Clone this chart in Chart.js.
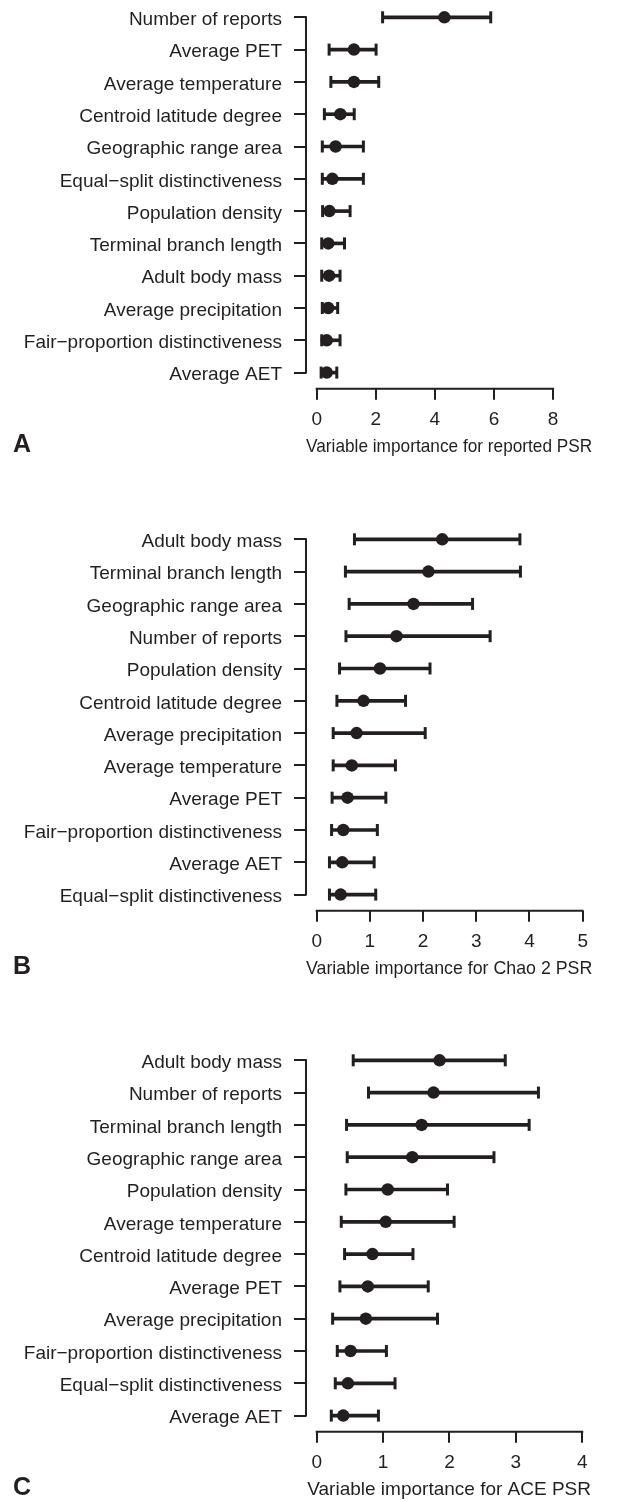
<!DOCTYPE html>
<html>
<head>
<meta charset="utf-8">
<script src="https://cdn.jsdelivr.net/npm/chart.js@4.4.1/dist/chart.umd.min.js"></script>
<style>
  html, body { margin: 0; padding: 0; background: #fff; overflow: hidden; width: 621px; height: 1502px; }
  canvas { position: absolute; left: 0; }
</style>
</head>
<body>
<canvas id="chartA" width="621" height="460" style="top:0px"></canvas>
<canvas id="chartB" width="621" height="460" style="top:521.7px"></canvas>
<canvas id="chartC" width="621" height="460" style="top:1043.4px"></canvas>
<script>
// Panel A - reported PSR
const labelsA = ['Number of reports', 'Average PET', 'Average temperature', 'Centroid latitude degree',
  'Geographic range area', 'Equal\u2212split distinctiveness', 'Population density', 'Terminal branch length',
  'Adult body mass', 'Average precipitation', 'Fair\u2212proportion distinctiveness', 'Average AET'];
const meanA = [4.32, 1.26, 1.26, 0.80, 0.64, 0.53, 0.43, 0.39, 0.42, 0.39, 0.34, 0.34];
const lowA  = [2.23, 0.42, 0.48, 0.26, 0.19, 0.19, 0.20, 0.17, 0.17, 0.19, 0.17, 0.15];
const highA = [5.89, 2.01, 2.10, 1.27, 1.58, 1.58, 1.13, 0.94, 0.79, 0.71, 0.79, 0.68];
const ticksA = [0, 2, 4, 6, 8];

// Panel B - Chao 2 PSR
const labelsB = ['Adult body mass', 'Terminal branch length', 'Geographic range area', 'Number of reports',
  'Population density', 'Centroid latitude degree', 'Average precipitation', 'Average temperature',
  'Average PET', 'Fair\u2212proportion distinctiveness', 'Average AET', 'Equal\u2212split distinctiveness'];
const meanB = [2.36, 2.10, 1.82, 1.50, 1.19, 0.88, 0.75, 0.66, 0.58, 0.50, 0.48, 0.45];
const lowB  = [0.71, 0.54, 0.61, 0.55, 0.43, 0.38, 0.31, 0.31, 0.29, 0.28, 0.24, 0.24];
const highB = [3.82, 3.83, 2.93, 3.26, 2.13, 1.67, 2.04, 1.48, 1.30, 1.14, 1.08, 1.11];
const ticksB = [0, 1, 2, 3, 4, 5];

// Panel C - ACE PSR
const labelsC = ['Adult body mass', 'Number of reports', 'Terminal branch length', 'Geographic range area',
  'Population density', 'Average temperature', 'Centroid latitude degree', 'Average PET',
  'Average precipitation', 'Fair\u2212proportion distinctiveness', 'Equal\u2212split distinctiveness', 'Average AET'];
const meanC = [1.85, 1.76, 1.58, 1.44, 1.07, 1.04, 0.84, 0.77, 0.74, 0.51, 0.47, 0.40];
const lowC  = [0.55, 0.78, 0.45, 0.46, 0.44, 0.37, 0.42, 0.35, 0.24, 0.31, 0.28, 0.22];
const highC = [2.84, 3.34, 3.20, 2.67, 1.97, 2.07, 1.45, 1.68, 1.82, 1.05, 1.18, 0.93];
const ticksC = [0, 1, 2, 3, 4];

const ink = '#231f20';
Chart.defaults.font.family = '"Liberation Sans", Arial, sans-serif';
Chart.defaults.font.size = 19;
Chart.defaults.color = ink;

// R-style axis lines: only from first to last tick, plus the panel letter
const rAxes = {
  id: 'rAxes',
  afterDraw(chart, args, opts) {
    const { ctx, chartArea } = chart;
    const x = chart.scales.x, y = chart.scales.y;
    ctx.save();
    ctx.strokeStyle = ink;
    ctx.lineWidth = 2;
    ctx.beginPath();
    const yTop = y.getPixelForValue(0);
    const yBot = y.getPixelForValue(y.ticks.length - 1);
    ctx.moveTo(chartArea.left, yTop - 1);
    ctx.lineTo(chartArea.left, yBot + 1);
    const xa = x.getPixelForValue(x.ticks[0].value);
    const xb = x.getPixelForValue(x.ticks[x.ticks.length - 1].value);
    ctx.moveTo(xa - 1, chartArea.bottom);
    ctx.lineTo(xb + 1, chartArea.bottom);
    ctx.stroke();
    ctx.fillStyle = ink;
    ctx.font = 'bold 25px "Liberation Sans", Arial, sans-serif';
    ctx.textBaseline = 'alphabetic';
    ctx.fillText(opts.letter, 13, 452);
    ctx.restore();
  }
};

function makePanel(id, letter, labels, lows, means, highs, ticks, xMin, xMax, title) {
  return new Chart(document.getElementById(id), {
    type: 'bar',
    data: {
      labels: labels,
      datasets: [
        {
          type: 'line', label: 'mean', data: means, indexAxis: 'y', order: 0,
          showLine: false, pointStyle: 'circle', pointRadius: 6.25,
          pointBackgroundColor: ink, pointBorderWidth: 0, clip: false
        },
        {
          type: 'line', label: 'low', data: lows, indexAxis: 'y', order: 1,
          showLine: false, pointStyle: 'line', pointRotation: 90, pointRadius: 6,
          pointBorderColor: ink, pointBorderWidth: 3, clip: false
        },
        {
          type: 'line', label: 'high', data: highs, indexAxis: 'y', order: 1,
          showLine: false, pointStyle: 'line', pointRotation: 90, pointRadius: 6,
          pointBorderColor: ink, pointBorderWidth: 3, clip: false
        },
        {
          type: 'bar', label: 'range', data: lows.map((l, i) => [l, highs[i]]), order: 2,
          backgroundColor: ink, borderWidth: 0, barThickness: 3, clip: false
        }
      ]
    },
    options: {
      indexAxis: 'y',
      responsive: false,
      animation: false,
      events: [],
      layout: { autoPadding: false, padding: { left: 0, right: 28.7, top: 1.15, bottom: 0 } },
      plugins: {
        legend: { display: false },
        tooltip: { enabled: false },
        rAxes: { letter: letter }
      },
      scales: {
        y: {
          type: 'category',
          offset: true,
          border: { display: false },
          grid: { display: true, offset: false, drawOnChartArea: false, drawTicks: true,
                  tickLength: 12, lineWidth: 2, color: ink },
          ticks: { padding: 12, labelOffset: 2.5, autoSkip: false, color: ink },
          afterFit: s => { s.width = 306; s.paddingTop = 0; s.paddingBottom = 0; }
        },
        x: {
          type: 'linear',
          min: xMin,
          max: xMax,
          border: { display: false },
          grid: { display: true, drawOnChartArea: false, drawTicks: true,
                  tickLength: 11, lineWidth: 2, color: ink },
          ticks: { padding: 9, autoSkip: false, maxRotation: 0, color: ink },
          afterBuildTicks: s => { s.ticks = ticks.map(v => ({ value: v })); },
          title: { display: true, text: title, color: ink, padding: { top: 0, bottom: 2 } },
          afterFit: s => { s.height = 460 - 388.75; s.paddingLeft = 0; s.paddingRight = 0; }
        }
      }
    },
    plugins: [rAxes]
  });
}

makePanel('chartA', 'A', labelsA, lowA, meanA, highA, ticksA, -0.362, 9.327,
  'Variable importance for reported PSR');
makePanel('chartB', 'B', labelsB, lowB, meanB, highB, ticksB, -0.201, 5.181,
  'Variable importance for Chao 2 PSR');
makePanel('chartC', 'C', labelsC, lowC, meanC, highC, ticksC, -0.161, 4.151,
  'Variable importance for ACE PSR');
</script>
</body>
</html>
